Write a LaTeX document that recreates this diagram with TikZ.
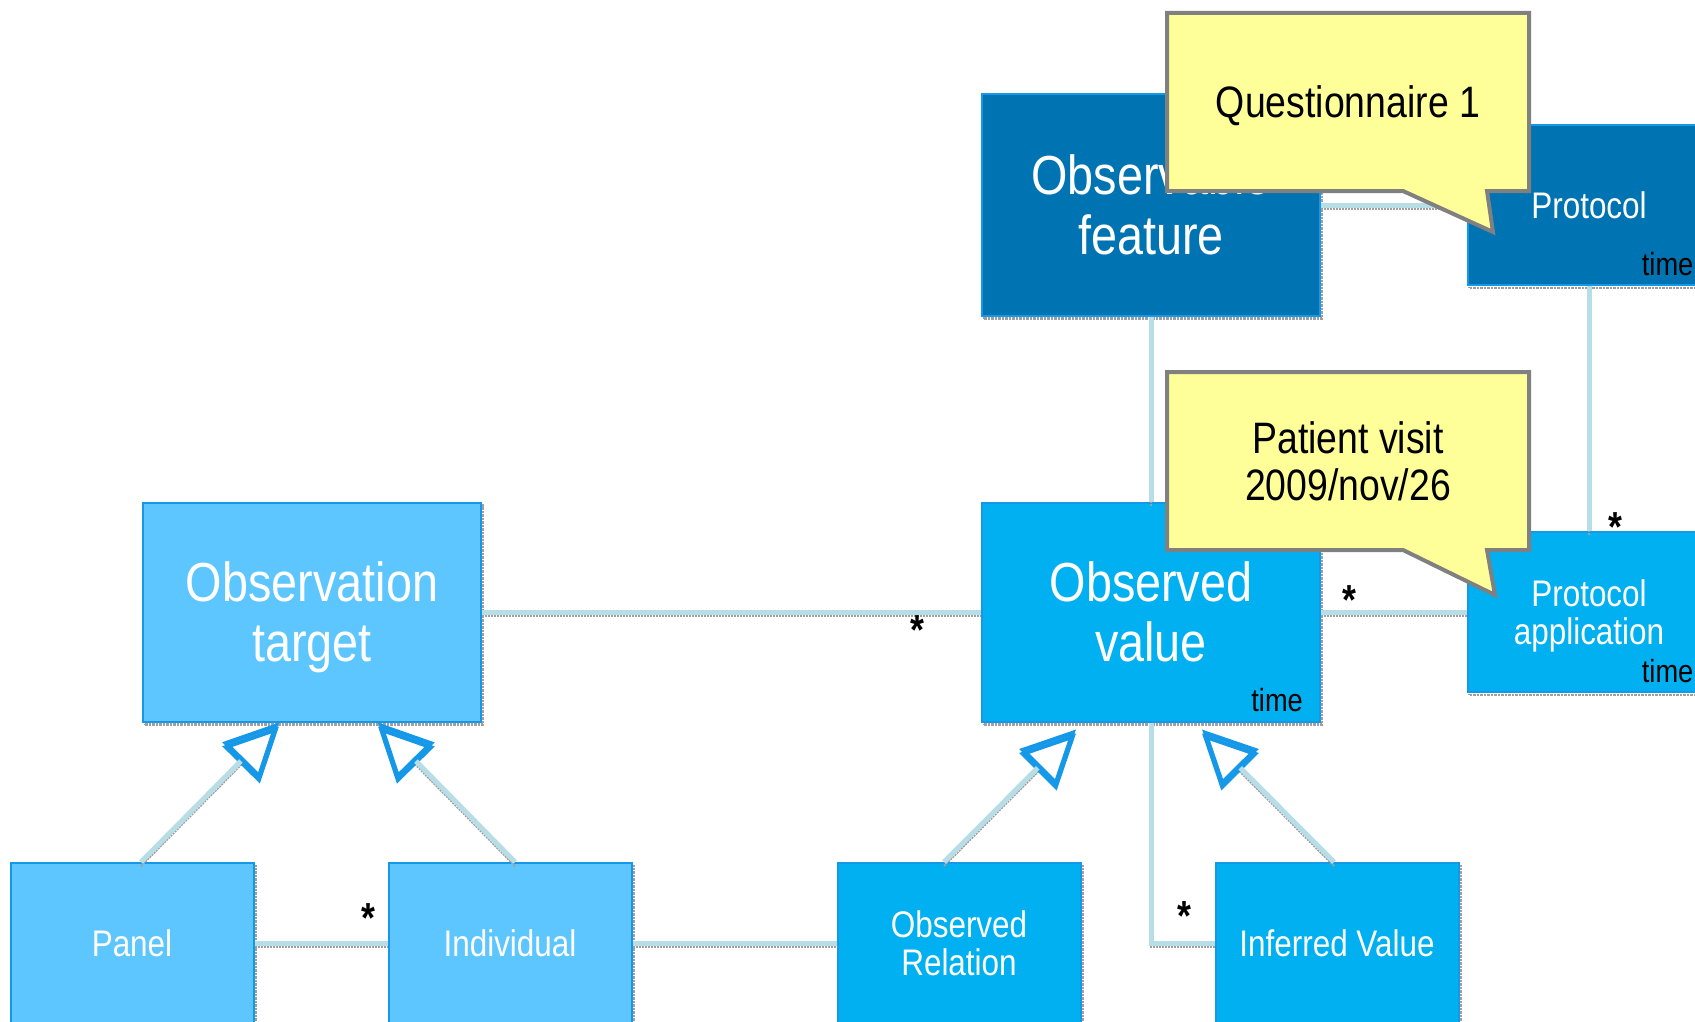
\documentclass[tikz,border=0pt]{standalone}
\usepackage{fontspec}
\setmainfont{Liberation Sans}[FakeStretch=0.85]
\usepackage{xcolor}
\usetikzlibrary{positioning, arrows.meta, shapes.callouts}

\definecolor{featblue}{RGB}{0,115,178}
\definecolor{valblue}{RGB}{0,176,240}
\definecolor{tgtblue}{RGB}{94,198,255}
\definecolor{edgeblue}{RGB}{22,152,232}
\definecolor{linkteal}{RGB}{183,222,230}
\definecolor{notefill}{RGB}{255,255,153}

\begin{document}
\begin{tikzpicture}[x=1pt, y=-1pt,
  every node/.style={inner sep=0pt},
  cls/.style={draw=edgeblue, line width=2pt, text=white, align=center,
    font=\fontsize{37}{38}\selectfont, text depth=0pt,
    preaction={draw=gray!75, densely dotted, line width=2.5pt,
      transform canvas={shift={(2pt,-3pt)}}}},
  big/.style={cls, font=\fontsize{55}{60}\selectfont,
    minimum width=338pt, minimum height=219pt},
  small/.style={cls, minimum width=243pt, minimum height=160pt},
  link/.style={draw=linkteal, line width=5pt,
    preaction={draw=gray!75, densely dotted, line width=2pt,
      transform canvas={shift={(0pt,-4pt)}}}},
  isa/.style={link, -{Triangle[open, length=54pt, width=52pt, line width=4pt, color=edgeblue]}},
  mult/.style={font=\fontsize{42}{42}\selectfont\bfseries},
  stamp/.style={font=\fontsize{32}{32}\selectfont},
  note/.style={rectangle callout, draw=gray, line width=4pt, fill=notefill,
    align=center, font=\fontsize{44}{47}\selectfont, text depth=0pt,
    minimum width=362pt, minimum height=178pt, callout pointer width=84pt}
]
\clip (0,0) rectangle (1695,1022);

% classes
\node[big, fill=tgtblue] (target) at (312,612) {Observation\\target};
\node[big, fill=valblue] (value) at (1151,612) {Observed\\value};
\node[big, fill=featblue, minimum height=221pt] (feature) at (1151,205) {Observable\\feature};
\node[small, fill=featblue] (protocol) at (1589,205) {Protocol};
\node[small, fill=valblue] (protapp) at (1589,612) {Protocol\\application};
\node[small, fill=tgtblue] (panel) at (132,943) {Panel};
\node[small, fill=tgtblue, right=133pt of panel] (individual) {Individual};
\node[small, fill=valblue] (obsrel) at (959,943) {Observed\\Relation};
\node[small, fill=valblue, right=133pt of obsrel] (inferred) {Inferred Value};

% time stamps
\node[stamp, above left=10pt and 18pt of value.south east] (tvalue) {time};
\node[stamp, above left=10pt and 18pt of protocol.south east] (tprotocol) {time};
\node[stamp, above left=10pt and 18pt of protapp.south east] (tprotapp) {time};

% associations
\draw[link] (target.east) -- (value.west);
\draw[link] (value.east) -- (protapp.west);
\draw[link] (feature.east) -- (protocol.west);
\draw[link] (feature.south) -- (value.north);
\draw[link] (protocol.south) -- (protapp.north);
\draw[link] (panel.east) -- (individual.west);
\draw[link] (individual.east) -- (obsrel.west);
\draw[link] (value.south) |- (inferred.west);

% generalisations
\draw[isa] ([xshift=9pt]panel.north) -- ([xshift=-33pt]target.south);
\draw[isa] ([xshift=5pt]individual.north) -- ([xshift=66pt]target.south);
\draw[isa] ([xshift=-15pt]obsrel.north) -- ([xshift=-75pt,yshift=-7pt]value.south);
\draw[isa] ([xshift=-3pt]inferred.north) -- ([xshift=51pt,yshift=-7pt]value.south);

% multiplicities
\node[mult] (m1) at (368,918) {*};
\node[mult] (m2) at (917,630) {*};
\node[mult] (m3) at (1349,600) {*};
\node[mult] (m4) at (1615,527) {*};
\node[mult] (m5) at (1184,916) {*};

% notes
\coordinate (qtip) at (1493,232);
\node[note, callout absolute pointer={(qtip)}] (qnote) at (1348,102) {Questionnaire 1};
\coordinate (vtip) at (1495,595);
\node[note, callout absolute pointer={(vtip)}] (vnote) at (1348,461) {Patient visit\\2009/nov/26};
\end{tikzpicture}
\end{document}
